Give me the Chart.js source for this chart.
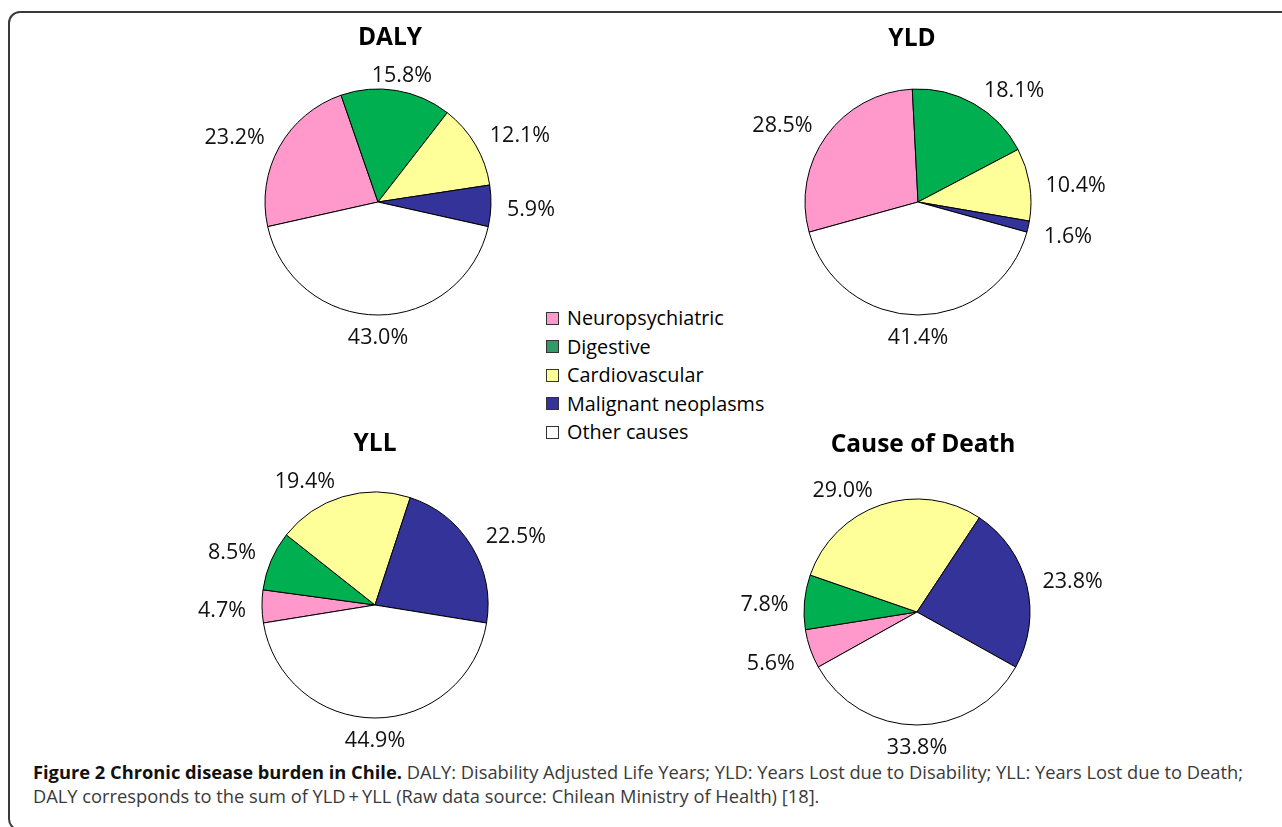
<!DOCTYPE html>
<html>
<head>
<meta charset="utf-8">
<script src="https://cdn.jsdelivr.net/npm/chart.js@4.4.1/dist/chart.umd.min.js"></script>
<style>
  body { margin: 0; background: #fff; font-family: "Open Sans", sans-serif; }
  #page { position: relative; width: 1282px; height: 827px; overflow: hidden; }
  #frame {
    position: absolute; left: 8px; top: 11px; width: 1300px; height: 816px;
    border: 2px solid #3a3a3a; border-radius: 12px;
  }
  .pie { position: absolute; }
  .title {
    position: absolute; font-weight: 700; font-size: 24.5px; line-height: 24.5px;
    color: #000; white-space: nowrap; transform: translateX(-50%);
  }
  #legend { position: absolute; left: 546px; top: 304px; font-size: 19.8px; line-height: 28.5px; color: #000; }
  #legend .row { display: flex; align-items: center; white-space: nowrap; }
  #legend .box { width: 11px; height: 11px; border: 1px solid #333; margin-right: 8px; }
  #caption {
    position: absolute; left: 33px; top: 760px; font-size: 18.3px; line-height: 24px;
    color: #3a3a3a; white-space: nowrap;
  }
  #caption b { color: #111; }
</style>
</head>
<body>
<div id="page">
  <div id="frame"></div>
  <div id="legend"></div>
  <div id="caption"><b>Figure 2 Chronic disease burden in Chile.</b> DALY: Disability Adjusted Life Years; YLD: Years Lost due to Disability; YLL: Years Lost due to Death;<br>DALY corresponds to the sum of YLD&#8201;+&#8201;YLL (Raw data source: Chilean Ministry of Health) [18].</div>
</div>
<script>
// categories and values (percent)
const categories = ['Neuropsychiatric', 'Digestive', 'Cardiovascular', 'Malignant neoplasms', 'Other causes'];
const chartTitles = ['DALY', 'YLD', 'YLL', 'Cause of Death'];
const dalyValues = [23.2, 15.8, 12.1, 5.9, 43.0];
const yldValues = [28.5, 18.1, 10.4, 1.6, 41.4];
const yllValues = [4.7, 8.5, 19.4, 22.5, 44.9];
const deathValues = [5.6, 7.8, 29.0, 23.8, 33.8];

// styles
const sliceColors = ['#FF99CC', '#00B050', '#FFFF99', '#333399', '#FFFFFF'];
const legendColors = ['#FF99CC', '#339966', '#FFFF99', '#333399', '#FFFFFF'];

// layout: pie centre and title centre for each chart
const layout = [
    { cx: 378, cy: 202, tx: 390, ty: 24 },
    { cx: 918, cy: 202, tx: 912, ty: 25 },
    { cx: 375, cy: 605, tx: 375, ty: 430 },
    { cx: 917, cy: 612, tx: 923, ty: 431 }
];
const pieRadius = 113;
const canvasW = 400, canvasH = 330;

// how much of the label box is pushed out along an axis (0 = centred on anchor)
function push(t) {
    return Math.min(1, Math.max(0, (Math.abs(t) - 0.15) / 0.12)) * Math.sign(t);
}

// percent labels outside each slice (outside-end style)
const outsideLabels = {
    id: 'outsideLabels',
    afterDatasetsDraw(chart) {
        const ctx = chart.ctx;
        const meta = chart.getDatasetMeta(0);
        const values = chart.data.datasets[0].data;
        ctx.save();
        ctx.font = '21.5px "Open Sans"';
        ctx.fillStyle = '#111';
        ctx.textAlign = 'center';
        ctx.textBaseline = 'middle';
        meta.data.forEach(function(arc, i) {
            const p = arc.getProps(['x', 'y', 'startAngle', 'endAngle', 'outerRadius'], true);
            const mid = (p.startAngle + p.endAngle) / 2;
            const cos = Math.cos(mid), sin = Math.sin(mid);
            const text = values[i].toFixed(1) + '%';
            const hw = ctx.measureText(text).width / 2;
            const r = p.outerRadius + 12;
            const x = p.x + cos * r + push(cos) * (hw + 4);
            const y = p.y + sin * r + push(sin) * 7 + 4;
            ctx.fillText(text, x, y);
        });
        ctx.restore();
    }
};

const page = document.getElementById('page');
[dalyValues, yldValues, yllValues, deathValues].forEach(function(values, k) {
    const pos = layout[k];
    const canvas = document.createElement('canvas');
    canvas.className = 'pie';
    canvas.width = canvasW;
    canvas.height = canvasH;
    canvas.style.left = (pos.cx - canvasW / 2) + 'px';
    canvas.style.top = (pos.cy - canvasH / 2) + 'px';
    page.appendChild(canvas);

    const title = document.createElement('div');
    title.className = 'title';
    title.textContent = chartTitles[k];
    title.style.left = pos.tx + 'px';
    title.style.top = pos.ty + 'px';
    page.appendChild(title);

    // "Other causes" slice is centred at the bottom
    const total = values.reduce((a, b) => a + b, 0);
    const rotation = -180 + 180 * values[4] / total;

    new Chart(canvas, {
        type: 'pie',
        data: {
            labels: categories,
            datasets: [{
                data: values,
                backgroundColor: sliceColors,
                borderColor: '#000',
                borderWidth: 1
            }]
        },
        options: {
            responsive: false,
            animation: false,
            events: [],
            rotation: rotation,
            radius: pieRadius,
            layout: { padding: 0 },
            plugins: {
                legend: { display: false },
                tooltip: { enabled: false }
            }
        },
        plugins: [outsideLabels]
    });
});

// legend
const legend = document.getElementById('legend');
categories.forEach(function(name, i) {
    const row = document.createElement('div');
    row.className = 'row';
    const box = document.createElement('span');
    box.className = 'box';
    box.style.background = legendColors[i];
    const label = document.createElement('span');
    label.textContent = name;
    row.appendChild(box);
    row.appendChild(label);
    legend.appendChild(row);
});
</script>
</body>
</html>
